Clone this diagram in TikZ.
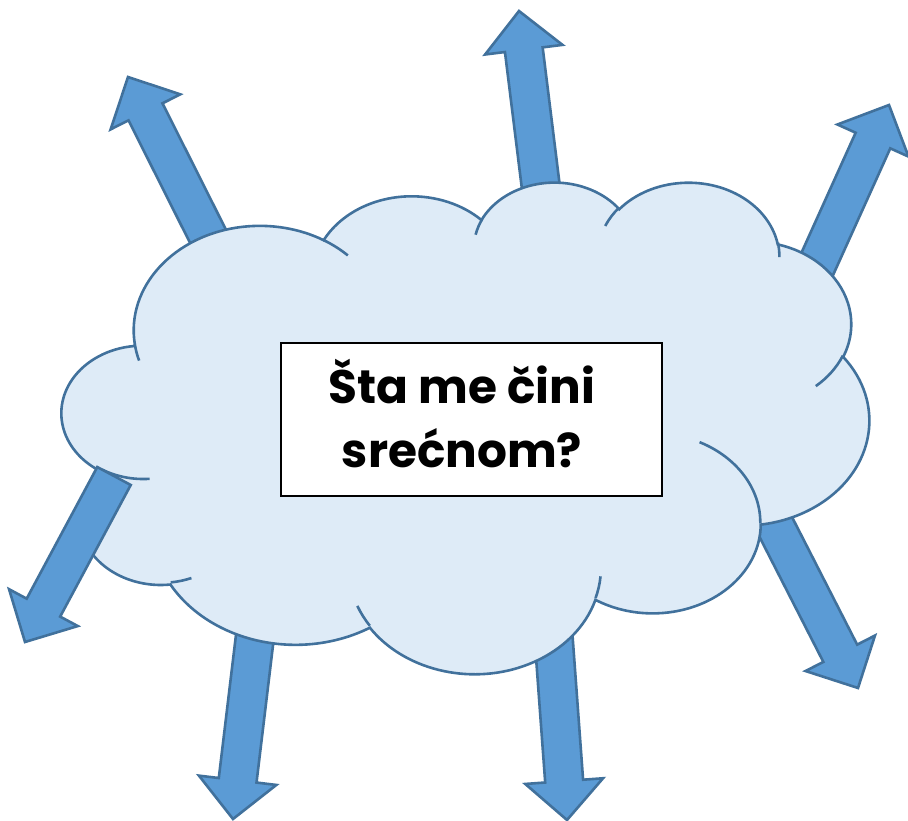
\documentclass[tikz,border=0pt]{standalone}
\usepackage{fontspec}
\setmainfont{Poppins}
\usetikzlibrary{calc}
\definecolor{cloudfill}{HTML}{DEEBF7}
\definecolor{arrowfill}{HTML}{5B9BD5}
\definecolor{edgeblue}{HTML}{41719C}

% one lobe of the cloud: x radius / y radius / start angle / sweep
\tikzset{
  cloud arc/.code args={#1/#2/#3/#4}{%
    \pgfmathsetmacro\arcsta{atan2(#1*sin(#3),#2*cos(#3))}%
    \pgfmathsetmacro\arcend{atan2(#1*sin(#3+#4),#2*cos(#3+#4))}%
    \pgfmathsetmacro\arcend{\arcsta+mod(\arcend-\arcsta+720,360)}%
    \edef\arcopts{start angle=\arcsta,end angle=\arcend,x radius=#1,y radius=#2}%
    \expandafter\pgfkeysalso\expandafter{\arcopts}%
  }
}

% block arrow from #1 (base) to #2 (tip)
\newcommand\blockarrow[2]{%
  \coordinate (#2 head) at ($(#2)!39pt!(#1)$);
  \draw[bigarrow] ($(#1)!19pt!90:(#2)$) -- ($(#2 head)!19pt!90:(#2)$)
    -- ($(#2 head)!39pt!90:(#2)$) -- (#2) -- ($(#2 head)!39pt!-90:(#2)$)
    -- ($(#2 head)!19pt!-90:(#2)$) -- ($(#1)!19pt!-90:(#2)$) -- cycle;
}

\begin{document}
\begin{tikzpicture}[x=1pt, y=-1pt,
    bigarrow/.style={draw=edgeblue, fill=arrowfill, line width=2.6pt, line join=miter},
    cloudbody/.style={draw=edgeblue, fill=cloudfill, line width=2.6pt},
    cloudline/.style={draw=edgeblue, line width=2.6pt},
    qbox/.style={draw=black, fill=white, line width=2.2pt, minimum width=381pt, minimum height=153pt},
    qtext/.style={align=center, font=\fontsize{47}{64}\selectfont\bfseries}
]
\useasboundingbox (0,0) rectangle (908,821);

% Arrow ends
\coordinate (tl base) at (240,300);
\coordinate (tl tip) at (128,77);
\coordinate (top base) at (551,269);
\coordinate (top tip) at (519,11);
\coordinate (tr base) at (782,342);
\coordinate (tr tip) at (889,105);
\coordinate (bl base) at (114,476);
\coordinate (bl tip) at (25,642);
\coordinate (bml base) at (264,561);
\coordinate (bml tip) at (233,819);
\coordinate (bmr base) at (548,561);
\coordinate (bmr tip) at (567,820);
\coordinate (br base) at (740,457);
\coordinate (br tip) at (858,688);

% Arrows behind the cloud
\blockarrow{tl base}{tl tip}
\blockarrow{top base}{top tip}
\blockarrow{tr base}{tr tip}
\blockarrow{bml base}{bml tip}
\blockarrow{bmr base}{bmr tip}
\blockarrow{br base}{br tip}

% Cloud
\begin{scope}[shift={(62,181)}, x=0.186806pt, y=-0.113773pt]
\draw[cloudbody] (390,1437)
  arc[cloud arc=675.3/919.0/-190.4875/123.7805]
  arc[cloud arc=533.3/726.7/-144.1024/89.9452]
  arc[cloud arc=436.5/594.5/-145.8079/99.7230]
  arc[cloud arc=485.7/659.5/-130.9861/117.2417]
  arc[cloud arc=533.3/727.3/-78.7089/109.0269]
  arc[cloud arc=677.5/922.0/-46.2673/130.2690]
  arc[cloud arc=578.5/786.7/0.6250/114.0333]
  arc[cloud arc=675.2/921.5/22.4516/115.1726]
  arc[cloud arc=772.0/1054.3/66.2426/75.7110]
  arc[cloud arc=436.0/591.8/-274.9421/146.7356]
  arc[cloud arc=434.5/594.5/-246.8285/152.5189]
  -- cycle;
\draw[cloudline] (469.3,2617.7) arc[cloud arc=434.5/594.5/86.7420/26.4295];
\draw[cloudline] (692.8,3489.9) arc[cloud arc=436.0/591.8/73.6105/11.4475];
\draw[cloudline] (1647.8,3909.0) arc[cloud arc=675.2/921.5/137.6242/14.0811];
\draw[cloudline] (2882.7,3475.1) arc[cloud arc=675.2/921.5/6.4533/15.9984];
\draw[cloudline] (3412.9,2295.4) arc[cloud arc=578.5/786.7/-70.2924/70.9174];
\draw[cloudline] (4179.8,1535.4) arc[cloud arc=533.3/727.3/30.3180/27.7515];
\draw[cloudline] (3832.4,542.6) arc[cloud arc=485.7/659.5/-13.7443/14.8589];
\draw[cloudline] (2907.8,395.2) arc[cloud arc=485.7/659.5/-149.1815/18.1954];
\draw[cloudline] (2214.1,472.0) arc[cloud arc=436.5/594.5/-163.4943/17.6864];
\draw[cloudline] (1400.0,519.2) arc[cloud arc=675.3/919.0/-66.7070/12.3194];
\draw[cloudline] (412.7,1578.9) arc[cloud arc=675.3/919.0/157.6544/11.8582];
\end{scope}

% Arrow in front of the cloud
\blockarrow{bl base}{bl tip}

% Question
\node[qbox] (question box) at (471.5,419.5) {};
\node[qtext] (question) at (462,414) {Šta me čini\\srećnom?};

\end{tikzpicture}
\end{document}
